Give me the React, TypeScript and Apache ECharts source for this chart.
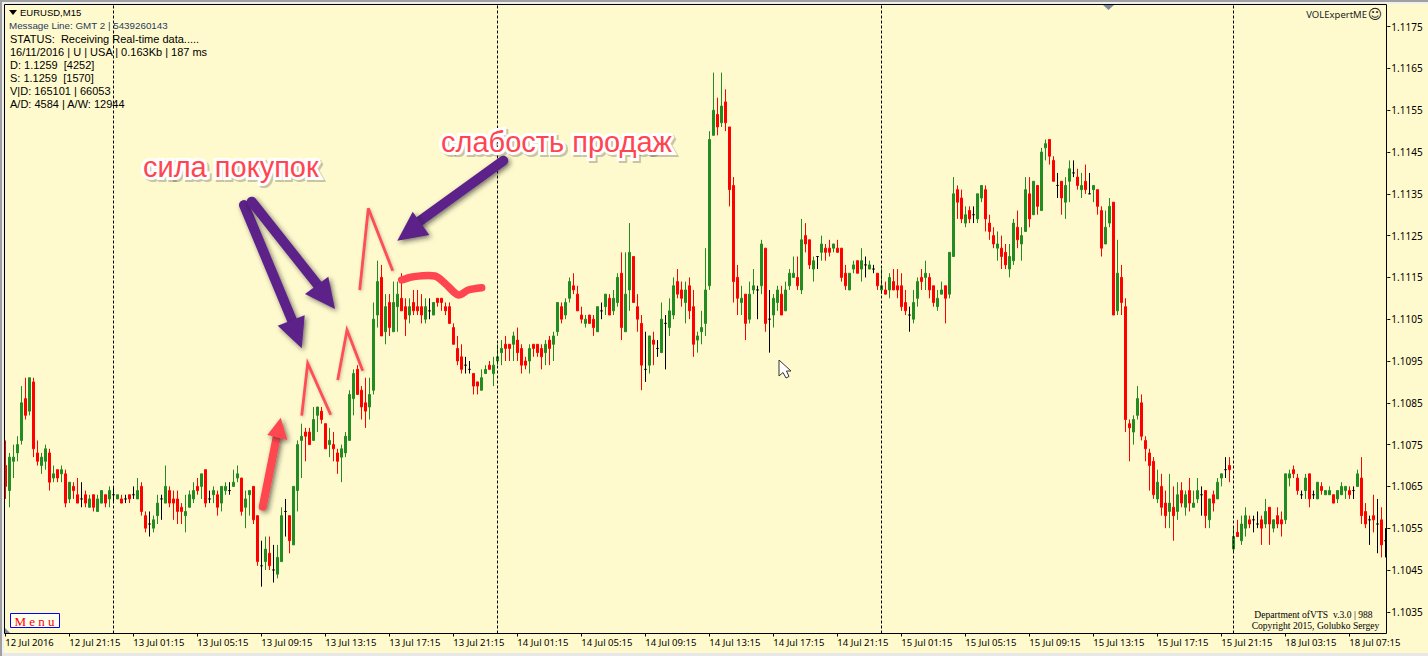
import React, { useEffect, useRef } from "react";
import * as echarts from "echarts";

// All prices are pips above 1.1000.
const PRICE_BASE = 1.1;
const PIP = 0.0001;

const highs = [
76,73,75,77,89,91,91,91,76,73,
75,74,70,69,70,69,66,66,67,66,
64,63,63,63,64,63,65,65,63,63,
63,63,65,67,66,59,59,58,63,63,
70,65,64,64,61,63,64,66,67,68,
69,64,65,64,65,66,66,69,70,67,
64,64,65,58,52,53,53,51,51,60,
62,58,65,76,80,79,79,84,84,84,
80,79,78,74,75,78,88,93,94,89,
91,91,109,119,118,111,111,114,114,116,
110,110,112,112,111,110,110,109,110,110,
109,109,104,101,99,96,95,92,90,93,
94,95,96,99,100,101,99,102,103,99,
96,99,99,99,99,100,101,102,109,109,
110,115,116,113,108,106,106,106,108,109,
111,111,112,116,121,121,128,120,111,106,
102,101,102,100,109,106,110,115,117,114,
114,115,112,102,107,122,150,164,158,164,
160,151,139,118,113,111,114,117,113,124,
122,112,111,113,113,114,117,120,120,129,
128,124,120,120,125,123,124,123,124,122,
118,116,119,119,122,120,119,118,116,117,
114,116,117,117,116,112,108,112,115,117,
119,116,113,112,114,113,121,139,137,136,
132,132,132,135,137,137,130,127,126,125,
123,123,129,131,127,139,139,138,137,146,
148,148,144,140,138,139,143,143,141,140,
142,140,137,136,132,131,134,133,124,118,
110,81,82,89,87,77,74,72,69,68,
64,68,65,66,66,64,67,64,67,65,
64,62,64,67,68,72,72,55,57,58,
60,58,58,59,58,62,60,57,60,59,
68,69,70,68,64,68,68,64,66,66,
64,65,63,64,66,65,65,65,69,72,
61,58,63,62,60,55];

const bodyTops = [
70,72,72,75,85,86,91,90,73,72,
74,73,68,69,69,68,66,65,63,62,
63,62,63,62,64,63,64,63,63,62,
62,63,63,64,65,58,56,57,61,62,
65,64,62,62,60,59,63,64,65,68,
69,62,64,63,65,65,64,66,68,67,
62,64,65,58,46,50,49,45,48,58,
59,58,65,75,77,78,78,81,84,83,
80,76,75,73,74,77,87,92,93,88,
85,87,105,114,115,108,109,109,111,110,
108,108,109,108,108,108,107,109,110,110,
108,108,103,98,96,94,93,92,90,91,
93,94,94,96,98,99,99,101,100,98,
95,98,99,99,98,99,100,101,109,108,
109,114,113,111,106,105,106,105,108,107,
111,110,110,115,116,111,121,120,108,104,
93,101,100,98,105,104,107,113,114,112,
112,113,108,101,103,112,148,155,154,156,
157,151,137,115,110,111,111,113,112,123,
122,105,110,112,111,112,116,116,115,124,
125,124,119,120,123,122,122,123,122,122,
116,116,118,119,119,118,118,117,116,113,
112,115,114,113,113,109,106,109,114,115,
116,115,113,110,112,113,121,135,136,134,
130,131,130,135,137,136,128,125,123,122,
121,120,128,127,125,136,135,138,137,145,
147,148,143,137,138,137,141,140,139,137,
138,135,137,136,131,127,132,133,116,115,
108,80,81,86,85,76,73,71,66,65,
61,61,60,63,64,63,64,61,64,63,
64,62,63,66,68,69,70,53,54,56,
58,57,57,56,57,59,60,57,58,57,
68,68,69,67,63,67,68,63,66,65,
64,64,63,64,65,65,64,64,68,67,
59,57,58,56,57,52];

const bodyBottoms = [
65,64,71,73,76,82,83,74,71,70,
71,66,67,67,68,61,62,64,61,62,
61,60,60,59,61,61,62,63,62,61,
62,62,63,62,59,55,56,55,58,62,
61,61,61,59,59,58,60,62,64,65,
61,62,63,60,61,64,64,65,67,59,
60,63,57,47,46,47,46,45,44,47,
59,52,51,64,76,77,75,76,82,81,
74,75,74,71,72,73,76,86,87,84,
83,84,88,106,101,102,103,102,108,107,
105,106,107,107,106,105,107,106,109,109,
107,104,99,95,93,94,93,89,89,88,
92,93,92,95,97,98,98,99,97,94,
94,95,98,97,96,97,98,99,102,105,
106,110,112,107,105,104,104,103,102,107,
108,106,107,109,103,102,112,109,105,94,
93,94,99,98,97,104,103,106,111,110,
109,107,99,100,102,104,113,149,151,152,
152,136,114,110,109,104,105,112,112,113,
104,105,106,109,106,107,113,115,113,112,
123,118,117,120,121,121,121,122,121,115,
113,112,117,116,117,118,117,117,113,112,
111,112,112,112,108,107,106,105,110,114,
115,112,109,108,111,110,111,120,133,129,
128,129,130,129,134,129,126,123,122,120,
118,117,119,124,123,126,129,130,132,131,
146,144,138,137,134,133,138,140,137,136,
136,135,136,132,122,123,128,106,107,109,
81,79,78,82,77,74,70,63,62,60,
58,59,58,59,61,60,61,60,62,63,
58,57,61,62,67,69,69,50,53,52,
55,56,57,56,55,56,56,55,56,56,
57,67,68,64,63,64,62,63,62,64,
63,63,61,62,63,64,63,64,65,58,
56,57,57,56,51,52];

const lows = [
62,60,67,71,75,81,82,72,70,68,
69,64,66,66,66,60,61,62,61,60,
60,60,59,59,61,60,60,61,62,61,
61,61,62,62,58,54,53,54,56,57,
61,60,57,56,56,54,60,61,63,62,
60,61,61,58,59,63,63,65,66,58,
55,58,56,46,41,45,45,42,43,47,
53,49,51,59,67,71,75,76,78,80,
74,72,71,68,66,72,76,82,87,81,
79,81,87,103,101,99,101,102,102,107,
101,104,106,106,104,104,105,106,108,107,
106,104,99,94,92,92,92,87,87,88,
92,93,89,94,94,95,95,95,95,92,
93,92,96,96,93,94,94,95,101,104,
105,109,111,107,104,103,104,101,102,105,
106,106,106,108,100,102,107,109,102,88,
90,92,94,96,97,93,101,105,110,108,
104,105,96,97,99,101,112,149,149,151,
150,132,109,106,106,100,104,111,105,111,
102,97,103,107,106,107,112,115,112,111,
121,117,114,117,119,119,120,121,121,114,
112,112,116,116,114,115,117,116,112,111,
111,110,112,110,107,106,102,104,108,112,
112,110,108,107,111,104,110,120,129,128,
127,128,128,128,133,126,124,122,119,117,
117,115,118,122,119,126,127,130,130,131,
143,142,138,134,130,129,133,139,136,134,
135,135,133,130,120,123,127,106,106,106,
78,71,75,81,76,71,64,62,61,58,
55,55,52,57,60,58,59,60,61,58,
55,55,59,62,65,67,66,49,53,51,
53,55,54,55,51,55,51,54,55,53,
56,65,67,63,62,62,60,62,62,63,
63,63,61,61,63,62,62,62,65,56,
55,51,54,49,48,48];

// r = falling candle, g = rising candle, k = open equals close
const sides =
  "rggggrgrrg" + "grgrgrgrrk" + "rgrggrgkgr" + "krkgrrkggk" + "grrrrgggrg" +
  "rkgrggkggr" + "ggrrkgrkgg" + "krgggrrggr" + "rgrrggggrr" + "rgggrgrggr" +
  "rgrrrgkgrr" + "rrrrrkkrrg" + "grgggrrgrr" + "rgrrrgrggr" + "ggrrrgrrgk" +
  "grggrggrrr" + "kgrkgkggrr" + "grrgggggrg" + "rrrrgrggkg" + "rkggrgggrg" +
  "rrgkgrrgrr" + "rggrgkgkrg" + "rgrrrrkggr" + "grrggrggrr" + "grkggrrrgr" +
  "rggrggrgrg" + "grrkrggkrg" + "rkgrrggrgr" + "rrggrrrrgr" + "rgrgrgrggk" +
  "rgrggkrgrg" + "grkkrgrgrr" + "ggrrkgrkgr" + "ggrgggrkgr" + "rkrkrk";

const timeLabels = [
  "12 Jul 2016", "12 Jul 21:15", "13 Jul 01:15", "13 Jul 05:15", "13 Jul 09:15", "13 Jul 13:15",
  "13 Jul 17:15", "13 Jul 21:15", "14 Jul 01:15", "14 Jul 05:15", "14 Jul 09:15", "14 Jul 13:15",
  "14 Jul 17:15", "14 Jul 21:15", "15 Jul 01:15", "15 Jul 05:15", "15 Jul 09:15", "15 Jul 13:15",
  "15 Jul 17:15", "15 Jul 21:15", "18 Jul 03:15", "18 Jul 07:15",
];
const CANDLES_PER_LABEL = 16;
const daySeparators = [27, 123, 219, 307];
const priceTicks = [
  1.1035, 1.1045, 1.1055, 1.1065, 1.1075, 1.1085, 1.1095, 1.1105,
  1.1115, 1.1125, 1.1135, 1.1145, 1.1155, 1.1165, 1.1175,
];
const infoLines = [
  "STATUS:  Receiving Real-time data.....",
  "16/11/2016 | U | USA | 0.163Kb | 187 ms",
  "D: 1.1259  [4252]",
  "S: 1.1259  [1570]",
  "V|D: 165101 | 66053",
  "A/D: 4584 | A/W: 12944",
];

const GREEN = "#228B22";
const RED = "#FF0000";
const PAPER = "#FFFACD";
const PURPLE = "#5C2189";
const MARKER = "#FF4650";
const UI = '"Noto Sans", sans-serif';
const INFO = '"Liberation Sans", sans-serif';

const toPrice = (p: number) => +(PRICE_BASE + p * PIP).toFixed(4);
const categories = highs.map((_, i) =>
  i % CANDLES_PER_LABEL === 0 ? timeLabels[i / CANDLES_PER_LABEL] ?? "" : `#${i}`
);
const candleData = highs.map((h, i) => {
  const top = toPrice(bodyTops[i]);
  const bottom = toPrice(bodyBottoms[i]);
  const rising = sides[i] === "g";
  return [rising ? bottom : top, rising ? top : bottom, toPrice(lows[i]), toPrice(h)];
});

const shadow = { shadowBlur: 5, shadowColor: "rgba(30,30,30,0.6)", shadowOffsetX: 2, shadowOffsetY: 2 };

function arrow(shaft: number[][], head: number[][], color: string, width: number) {
  return [
    { type: "polyline", z: 100, shape: { points: shaft }, style: { stroke: color, lineWidth: width, lineCap: "round", fill: "none", ...shadow } },
    { type: "polygon", z: 101, shape: { points: head }, style: { fill: color, ...shadow } },
  ];
}
function peak(points: number[][]) {
  return { type: "polyline", z: 100, shape: { points }, style: { stroke: MARKER, lineWidth: 2.8, fill: "none", opacity: 0.95, shadowBlur: 3, shadowOffsetX: 1, shadowOffsetY: 1, shadowColor: "rgba(60,60,60,0.35)" } };
}
function note(text: string, x: number, y: number) {
  const font = '29px "Liberation Sans", sans-serif';
  const base = { text, x: 0, y: 0, font, textVerticalAlign: "middle" };
  return [
    { type: "text", z: 102, x: x + 2, y: y + 2, style: { ...base, fill: "rgba(60,60,60,0.3)", stroke: "rgba(60,60,60,0.3)", lineWidth: 6 } },
    { type: "text", z: 103, x, y, style: { ...base, fill: "#FFFFFF", stroke: "#FFFFFF", lineWidth: 6 } },
    { type: "text", z: 104, x, y, style: { ...base, fill: MARKER } },
  ];
}
function label(text: string, x: number, y: number, font: string, fill = "#000", align = "left") {
  return { type: "text", z: 60, style: { text, x, y, font, fill, textAlign: align, textVerticalAlign: "middle" } };
}

export default function App() {
  const ref = useRef<HTMLDivElement>(null);
  useEffect(() => {
    document.body.style.margin = "0";
    const chart = echarts.init(ref.current!, null, { renderer: "svg" });
    chart.setOption({
      animation: false,
      backgroundColor: PAPER,
      grid: { left: 3.33, top: 4.5, width: 4 * highs.length, height: 629, containLabel: false },
      xAxis: {
        type: "category",
        data: categories,
        boundaryGap: true,
        axisLine: { show: false },
        axisTick: { show: true, length: 3, interval: CANDLES_PER_LABEL - 1, alignWithLabel: true, lineStyle: { color: "#000" } },
        axisLabel: {
          interval: CANDLES_PER_LABEL - 1, align: "left", margin: 4, hideOverlap: false,
          color: "#000", fontFamily: UI, fontSize: 9.5,
        },
        splitLine: { show: false },
      },
      yAxis: {
        type: "value", position: "right", min: 1.10298, max: 1.11803, scale: true,
        axisLine: { show: false },
        splitLine: { show: false },
        axisTick: { show: true, length: 3, customValues: priceTicks, lineStyle: { color: "#000" } },
        axisLabel: {
          margin: 4, color: "#000", fontFamily: UI, fontSize: 10,
          customValues: priceTicks, formatter: (v: number) => v.toFixed(4),
        },
      },
      series: [
        {
          type: "candlestick",
          data: candleData,
          barWidth: 2,
          clip: false,
          z: 5,
          itemStyle: {
            color: GREEN, color0: RED, borderColor: GREEN, borderColor0: RED,
            borderColorDoji: "#000", borderWidth: 1,
          },
          markLine: {
            silent: true, symbol: "none", animation: false, z: 6,
            label: { show: false },
            lineStyle: { color: "#000", type: [3, 2], width: 1 },
            data: daySeparators.map((i) => ({ xAxis: i })),
          },
        },
      ],
      graphic: [
        { type: "rect", z: 0, shape: { x: 0, y: 0, width: 1428, height: 4 }, style: { fill: "#F0F0F0" } },
        { type: "rect", z: 0, shape: { x: 0, y: 0, width: 4, height: 656 }, style: { fill: "#F0F0F0" } },
        { type: "rect", z: 0, shape: { x: 0, y: 653, width: 1428, height: 3 }, style: { fill: "#E8E8E8" } },
        { type: "rect", z: 1, shape: { x: 0, y: 0, width: 1428, height: 2 }, style: { fill: "#A0A0A0" } },
        { type: "rect", z: 1, shape: { x: 0, y: 0, width: 2, height: 656 }, style: { fill: "#A0A0A0" } },
        { type: "rect", z: 50, shape: { x: 4.5, y: 4.5, width: 1382, height: 629 }, style: { fill: "none", stroke: "#000", lineWidth: 1 } },
        { type: "polygon", z: 51, shape: { points: [[1103, 5], [1114, 5], [1108.5, 10]] }, style: { fill: "#7F8A99" } },
        { type: "polygon", z: 51, shape: { points: [[5, 628], [5, 633], [10, 633]] }, style: { fill: "#7F8A99" } },
        { type: "polygon", z: 60, shape: { points: [[9, 10], [17, 10], [13, 15]] }, style: { fill: "#000" } },
        label("EURUSD,M15", 20, 12.5, `9.5px ${INFO}`),
        label("Message Line: GMT 2 | 5439260143", 9, 25.5, `9.8px ${INFO}`, "#1F3A5F"),
        ...infoLines.map((t, i) => label(t, 10, 38.5 + i * 13, `11px ${INFO}`)),
        label("VOLExpertME", 1367, 14, `9.5px ${UI}`, "#222", "right"),
        label("☺", 1375, 14, '14px "DejaVu Sans"', "#222", "center"),
        label("Department ofVTS  v.3.0 | 988", 1313.5, 614.5, '9.6px "Liberation Serif"', "#000", "center"),
        label("Copyright 2015, Golubko Sergey", 1315.5, 625, '9.6px "Liberation Serif"', "#000", "center"),
        { type: "rect", z: 60, shape: { x: 10.5, y: 613.5, width: 49, height: 14 }, style: { fill: "#FFFFF0", stroke: "#0000FF", lineWidth: 1 } },
        label("M e n u", 34.5, 621, '13px "Liberation Serif"', "#FF0000", "center"),
        ...arrow([[262.7, 506.7], [276.7, 436.7]], [[280.7, 417.7], [267.3, 435], [287.3, 440]], MARKER, 8),
        ...arrow([[244, 205], [293.3, 323.3]], [[301.7, 348.3], [277.7, 325.7], [304.7, 315.3]], PURPLE, 10),
        ...arrow([[251.7, 201.7], [321.7, 290]], [[335, 309], [305, 294], [328.3, 276.7]], PURPLE, 10),
        ...arrow([[503.3, 160.7], [416.7, 223.3]], [[397.3, 240.7], [412.7, 211.7], [429.3, 235]], PURPLE, 10),
        peak([[301.7, 415.7], [307.7, 363.3], [330.7, 414.7]]),
        peak([[337.7, 380], [347, 330], [362.7, 370.7]]),
        peak([[359.7, 290], [368.3, 208.3], [392.7, 270.7]]),
        {
          type: "polyline", z: 100,
          shape: { points: [[401.7, 280], [413.3, 276.7], [435, 276], [445, 283.3], [458.3, 295], [468.3, 290], [481.7, 287.7]], smooth: 0.3 },
          style: { stroke: MARKER, lineWidth: 7.5, lineCap: "round", lineJoin: "round", fill: "none" },
        },
        ...note("сила покупок", 143, 167),
        ...note("слабость продаж", 441, 142),
        {
          type: "polygon", z: 100,
          shape: { points: [[779, 360], [779, 376], [783, 372.5], [786, 378], [789, 376.5], [786.5, 371], [791, 371]] },
          style: { fill: "#FFFFFF", stroke: "#333", lineWidth: 1 },
        },
      ],
    });
    return () => chart.dispose();
  }, []);
  return <div ref={ref} style={{ position: "fixed", left: 0, top: 0, width: 1428, height: 656 }} />;
}
